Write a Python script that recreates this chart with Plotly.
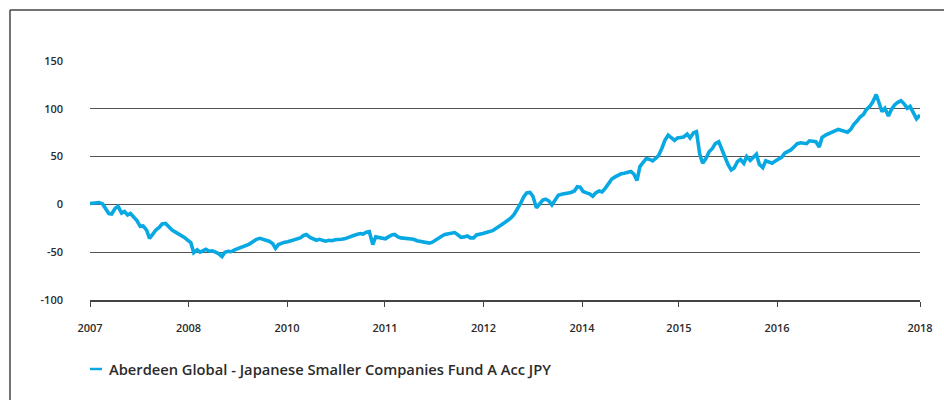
import pandas as pd
import plotly.graph_objects as go

# Cumulative performance (%) of the fund, sampled twice a month
fund_name = "Aberdeen Global - Japanese Smaller Companies Fund A Acc JPY"
dates = pd.date_range("2007-09-01", "2018-09-01", freq="SMS")

performance = [
    1.0, 1.5, 2.2, 2.0, 0.5, -4.5, -9.5, -10.0, -4.0, -2.0,
    -9.0, -7.5, -11.0, -9.5, -13.0, -17.0, -23.0, -22.5, -27.0, -35.5,
    -31.0, -27.0, -24.0, -20.5, -20.0, -23.5, -26.5, -28.5, -30.5, -32.0,
    -34.5, -37.0, -40.0, -50.5, -47.5, -50.0, -48.5, -47.0, -49.0, -48.5,
    -50.0, -51.5, -54.5, -50.0, -49.0, -49.5, -47.5, -46.5, -45.0, -44.5,
    -42.5, -41.0, -38.5, -36.5, -35.5, -36.5, -37.0, -38.5, -41.0, -46.0,
    -42.0, -40.5, -39.5, -39.0, -38.0, -37.5, -36.0, -35.0, -32.5, -31.5,
    -34.5, -36.0, -37.5, -36.5, -37.5, -38.5, -37.5, -38.0, -37.0, -37.0,
    -36.5, -36.0, -35.0, -34.0, -32.5, -31.5, -30.5, -31.0, -29.0, -28.5,
    -42.0, -34.0, -35.0, -35.5, -36.0, -34.0, -32.0, -31.5, -34.0, -35.0,
    -35.5, -35.5, -36.0, -36.5, -38.0, -38.5, -39.5, -40.0, -40.5, -39.5,
    -37.0, -34.5, -33.0, -31.5, -30.5, -29.5, -29.5, -31.5, -34.5, -34.0,
    -33.0, -35.0, -35.0, -32.0, -31.5, -30.5, -29.5, -28.5, -27.5, -25.5,
    -23.5, -21.0, -19.0, -17.0, -14.0, -10.5, -5.5, 0.5, 8.0, 12.0,
    12.5, 8.5, -3.5, 0.0, 4.5, 5.5, 3.5, -0.5, 6.0, 9.5,
    10.5, 11.0, 12.0, 12.5, 14.0, 18.5, 18.0, 13.5, 12.0, 11.0,
    8.5, 12.0, 14.0, 13.0, 17.0, 22.0, 26.5, 28.5, 30.5, 32.0,
    32.5, 33.0, 34.5, 32.0, 25.0, 39.5, 45.0, 48.0, 47.0, 45.5,
    48.0, 51.0, 59.0, 67.0, 72.5, 70.5, 67.0, 69.5, 70.0, 70.5,
    73.5, 69.5, 75.0, 76.0, 52.0, 43.0, 48.5, 55.0, 58.5, 63.5,
    65.5, 58.0, 49.0, 41.5, 36.0, 38.0, 45.0, 47.0, 43.0, 50.0,
    46.0, 49.5, 52.5, 42.0, 38.5, 45.5, 44.0, 43.0, 45.5, 47.5,
    49.5, 53.5, 55.0, 57.0, 60.5, 63.5, 64.5, 64.0, 63.5, 66.5,
    66.0, 65.5, 60.0, 70.0, 72.5, 74.0, 76.0, 77.5, 78.5, 77.5,
    76.5, 75.5, 78.5, 83.5, 87.5, 91.5, 94.0, 99.0, 102.5, 107.0,
    115.0, 107.0, 97.0, 100.5, 92.5, 99.0, 104.0, 106.5, 108.5, 105.5,
    100.5, 102.5, 96.0, 89.5, 93.5,
]

tick_dates = [
    "2007-09-01", "2008-12-21", "2010-04-12", "2011-07-30", "2012-11-18",
    "2014-03-10", "2015-06-22", "2016-10-09", "2018-09-01",
]
tick_labels = ["2007", "2008", "2010", "2011", "2012", "2014", "2015", "2016", "2018"]

y_ticks = [-100, -50, 0, 50, 100, 150]
y_labels = ["-100", "-50", "0", "50", "100", "150"]

LINE_BLUE = "#08a9e3"
TEXT = "#2b2b2b"
GRID = "#555555"
FONT = "Open Sans"

fig = go.Figure()
fig.add_trace(go.Scatter(
    x=dates, y=performance, mode="lines", name=fund_name,
    line=dict(color=LINE_BLUE, width=3.6),
    showlegend=False, hoverinfo="x+y",
))

fig.update_layout(
    width=944, height=400,
    margin=dict(l=90, r=24, t=61, b=100),
    paper_bgcolor="white", plot_bgcolor="white",
    font=dict(family=FONT, size=11, color=TEXT, weight=600),
    xaxis=dict(
        type="date",
        range=["2007-09-01", "2018-09-01"],
        tickmode="array", tickvals=tick_dates, ticktext=tick_labels,
        showgrid=False, zeroline=False,
        showline=True, linecolor="#444444", linewidth=1.5,
        ticks="outside", ticklen=5, tickwidth=1.2, tickcolor="#444444",
        ticklabelstandoff=12,
        tickfont=dict(family=FONT, size=11, color=TEXT, weight=600),
    ),
    yaxis=dict(
        range=[-100, 150],
        tickmode="array", tickvals=y_ticks, ticktext=y_labels,
        showgrid=True, gridcolor=GRID, gridwidth=1.3,
        zeroline=False, showline=False, ticks="",
        ticklabelstandoff=26,
        tickfont=dict(family=FONT, size=11, color=TEXT, weight=600),
    ),
    shapes=[
        # outer frame (top and left edges)
        dict(type="line", xref="paper", yref="paper",
             x0=-0.0964, x1=1.03, y0=1.2134, y1=1.2134,
             line=dict(color="#444444", width=1.5)),
        dict(type="line", xref="paper", yref="paper",
             x0=-0.0964, x1=-0.0964, y0=1.2134, y1=-0.5,
             line=dict(color="#444444", width=1.5)),
        # legend key
        dict(type="line", xref="paper", yref="paper",
             x0=0.0, x1=0.0145, y0=-0.2887, y1=-0.2887,
             line=dict(color=LINE_BLUE, width=2.5)),
    ],
    annotations=[
        dict(text=fund_name, xref="paper", yref="paper",
             x=0.0205, y=-0.2887, xanchor="left", yanchor="middle",
             showarrow=False,
             font=dict(family=FONT, size=14.7, color=TEXT, weight=600)),
    ],
)

fig.write_html("out.html")
